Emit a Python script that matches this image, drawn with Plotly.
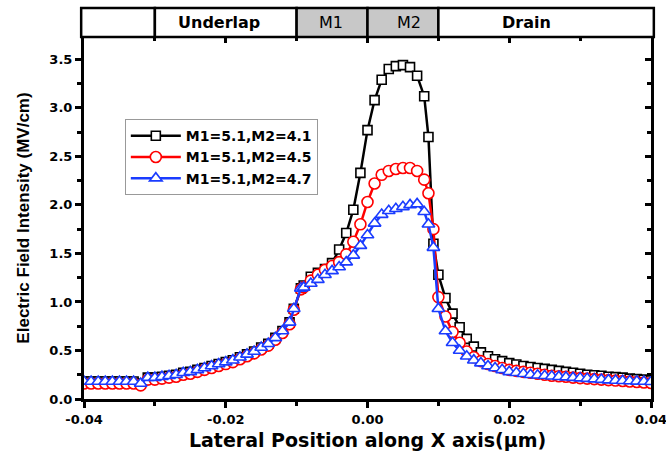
import plotly.graph_objects as go

# ---- data ----
x_pos = [-0.040, -0.039, -0.038, -0.037, -0.036, -0.035, -0.034, -0.033, -0.032, -0.031,
         -0.030, -0.029, -0.028, -0.027, -0.026, -0.025, -0.024, -0.023, -0.022, -0.021,
         -0.020, -0.019, -0.018, -0.017, -0.016, -0.015, -0.014, -0.013, -0.012, -0.011,
         -0.0104, -0.0094,
         -0.009, -0.008, -0.007, -0.006, -0.005, -0.004, -0.003, -0.002, -0.001,
         0.000, 0.001, 0.002, 0.003, 0.004, 0.005, 0.006, 0.007, 0.008,
         0.0086, 0.0093,
         0.010, 0.011, 0.012, 0.013, 0.014, 0.015, 0.016, 0.017, 0.018, 0.019,
         0.020, 0.021, 0.022, 0.023, 0.024, 0.025, 0.026, 0.027, 0.028, 0.029,
         0.030, 0.031, 0.032, 0.033, 0.034, 0.035, 0.036, 0.037, 0.038, 0.039, 0.040]

e_41 = [0.18, 0.18, 0.18, 0.18, 0.18, 0.18, 0.18, 0.18, 0.16, 0.22,
        0.22, 0.23, 0.24, 0.25, 0.27, 0.28, 0.30, 0.32, 0.34, 0.36,
        0.38, 0.40, 0.43, 0.46, 0.49, 0.53, 0.57, 0.63, 0.70, 0.79,
        0.93, 1.14,
        1.17, 1.26, 1.30, 1.34, 1.40, 1.54, 1.71, 1.95, 2.33,
        2.77, 3.08, 3.29, 3.40, 3.43, 3.44, 3.42, 3.33, 3.12,
        2.70, 1.60,
        1.28, 1.04, 0.88, 0.74, 0.62, 0.54, 0.48, 0.44, 0.41, 0.39,
        0.37, 0.355, 0.34, 0.33, 0.32, 0.31, 0.30, 0.29, 0.28, 0.27,
        0.26, 0.25, 0.245, 0.24, 0.23, 0.225, 0.22, 0.21, 0.205, 0.20, 0.19]

e_45 = [0.16, 0.16, 0.16, 0.16, 0.16, 0.16, 0.16, 0.16, 0.14, 0.20,
        0.20, 0.21, 0.22, 0.23, 0.25, 0.26, 0.28, 0.30, 0.32, 0.34,
        0.36, 0.38, 0.41, 0.44, 0.47, 0.51, 0.55, 0.61, 0.68, 0.77,
        0.92, 1.13,
        1.15, 1.22, 1.28, 1.33, 1.37, 1.41, 1.49, 1.62, 1.80,
        2.03, 2.22, 2.31, 2.35, 2.37, 2.38, 2.38, 2.35, 2.26,
        2.12, 1.75,
        1.05, 0.85, 0.69, 0.58, 0.49, 0.43, 0.39, 0.36, 0.34, 0.32,
        0.30, 0.29, 0.28, 0.27, 0.26, 0.25, 0.24, 0.235, 0.23, 0.22,
        0.215, 0.21, 0.205, 0.20, 0.195, 0.19, 0.185, 0.18, 0.175, 0.17, 0.165]

e_47 = [0.18, 0.18, 0.18, 0.18, 0.18, 0.18, 0.18, 0.18, 0.16, 0.22,
        0.22, 0.23, 0.24, 0.25, 0.27, 0.28, 0.30, 0.32, 0.34, 0.36,
        0.38, 0.40, 0.43, 0.46, 0.49, 0.53, 0.57, 0.63, 0.70, 0.79,
        0.93, 1.14,
        1.15, 1.19, 1.23, 1.28, 1.32, 1.36, 1.41, 1.48, 1.58,
        1.69, 1.81, 1.90, 1.94, 1.96, 1.98, 2.00, 2.01, 1.93,
        1.80, 1.56,
        0.93, 0.70, 0.58, 0.50, 0.44, 0.40, 0.37, 0.34, 0.32, 0.30,
        0.28, 0.27, 0.26, 0.25, 0.245, 0.24, 0.235, 0.23, 0.225, 0.22,
        0.215, 0.21, 0.205, 0.20, 0.195, 0.19, 0.188, 0.185, 0.182, 0.18, 0.178]

series_names = ["M1=5.1,M2=4.1", "M1=5.1,M2=4.5", "M1=5.1,M2=4.7"]

x_ticks = [-0.04, -0.02, 0.0, 0.02, 0.04]
x_ticktext = ["-0.04", "-0.02", "0.00", "0.02", "0.04"]
x_minor = [-0.03, -0.01, 0.01, 0.03]
y_ticks = [0.0, 0.5, 1.0, 1.5, 2.0, 2.5, 3.0, 3.5]
y_ticktext = ["0.0", "0.5", "1.0", "1.5", "2.0", "2.5", "3.0", "3.5"]

# region band along the top: (start, end, label, filled, bold)
regions = [(-0.0404, -0.03, "", False, False),
           (-0.03, -0.01, "Underlap", False, True),
           (-0.01, 0.0, "M1", True, False),
           (0.0, 0.01, "M2", True, False),
           (0.01, 0.0404, "Drain", False, True)]
label_pos = [None, -0.0209, -0.0051, 0.0058, 0.0224]

XMIN, XMAX = -0.04, 0.04
YMAX = 3.73
FONT = "Arial, Liberation Sans, Helvetica, sans-serif"
WIDE = "DejaVu Sans, Verdana, sans-serif"

fig = go.Figure()
styles = [
    dict(color="black", symbol="square", size=9),
    dict(color="red", symbol="circle", size=11),
    dict(color="#1a3cff", symbol="triangle-up", size=11),
]
for name, ys, st in zip(series_names, [e_41, e_45, e_47], styles):
    fig.add_trace(go.Scatter(
        x=x_pos, y=ys, name=name, mode="lines+markers",
        line=dict(color=st["color"], width=2.5),
        marker=dict(symbol=st["symbol"], size=st["size"], color="white",
                    line=dict(color=st["color"], width=1.6)),
    ))

# dummy trace to activate mirrored axes (inside ticks on top / right)
fig.add_trace(go.Scatter(x=[None], y=[None], xaxis="x2", yaxis="y2",
                         showlegend=False, hoverinfo="skip"))

def fx(v):
    return (v - XMIN) / (XMAX - XMIN)

shapes = []
annotations = []
band_y0, band_y1 = 1.0, 1.08
for (a, b, lab, filled, bold), lp in zip(regions, label_pos):
    shapes.append(dict(type="rect", xref="paper", yref="paper",
                       x0=fx(a), x1=fx(b), y0=band_y0, y1=band_y1,
                       fillcolor="#c8c8c8" if filled else "white",
                       line=dict(color="black", width=2.5), layer="above"))
    if lab:
        annotations.append(dict(x=lp, xref="x", y=(band_y0 + band_y1) / 2, yref="paper",
                                text=("<b>%s</b>" % lab) if bold else lab,
                                showarrow=False, xanchor="center", yanchor="middle",
                                font=dict(family=WIDE, size=16, color="black")))

fig.update_layout(
    width=666, height=462,
    margin=dict(l=84, r=15, t=37, b=63),
    plot_bgcolor="white", paper_bgcolor="white",
    font=dict(family=FONT, color="black"),
    shapes=shapes, annotations=annotations,
    legend=dict(x=0.072, y=0.773, xanchor="left", yanchor="top",
                bordercolor="#999999", borderwidth=1, bgcolor="white",
                font=dict(family=WIDE, size=14, color="black", weight="bold"),
                tracegroupgap=0, itemwidth=50),
    xaxis=dict(range=[XMIN, XMAX], tickvals=x_ticks, ticktext=x_ticktext,
               ticks="outside", ticklen=6, tickwidth=3, tickcolor="black",
               showline=True, linewidth=3, linecolor="black", mirror=True,
               showgrid=False, zeroline=False, automargin=False,
               ticklabeloverflow="allow",
               tickfont=dict(family=WIDE, size=13, weight="bold"),
               minor=dict(tickvals=x_minor, ticks="outside", ticklen=4, tickwidth=3, tickcolor="black"),
               title=dict(text="<b>Lateral Position along X axis(μm)</b>",
                          font=dict(family=WIDE, size=19), standoff=9)),
    yaxis=dict(range=[0, YMAX], tickvals=y_ticks, ticktext=y_ticktext,
               ticks="outside", ticklen=6, tickwidth=3, tickcolor="black",
               showline=True, linewidth=3, linecolor="black", mirror=True,
               showgrid=False, zeroline=False, automargin=False,
               tickfont=dict(family=WIDE, size=13, weight="bold"),
               minor=dict(dtick=0.25, ticks="outside", ticklen=4, tickwidth=3, tickcolor="black"),
               title=dict(text="<b>Electric Field Intensity (MV/cm)</b>",
                          font=dict(family=FONT, size=17), standoff=16)),
    xaxis2=dict(overlaying="x", side="top", range=[XMIN, XMAX], tickvals=x_ticks,
                ticks="inside", ticklen=6, tickwidth=3, tickcolor="black",
                showticklabels=False, showgrid=False, zeroline=False, showline=False,
                automargin=False,
                minor=dict(tickvals=x_minor, ticks="inside", ticklen=4, tickwidth=3, tickcolor="black")),
    yaxis2=dict(overlaying="y", side="right", range=[0, YMAX], tickvals=y_ticks,
                ticks="inside", ticklen=6, tickwidth=3, tickcolor="black",
                showticklabels=False, showgrid=False, zeroline=False, showline=False,
                automargin=False,
                minor=dict(dtick=0.25, ticks="inside", ticklen=4, tickwidth=3, tickcolor="black")),
)

fig.write_html("out.html")
